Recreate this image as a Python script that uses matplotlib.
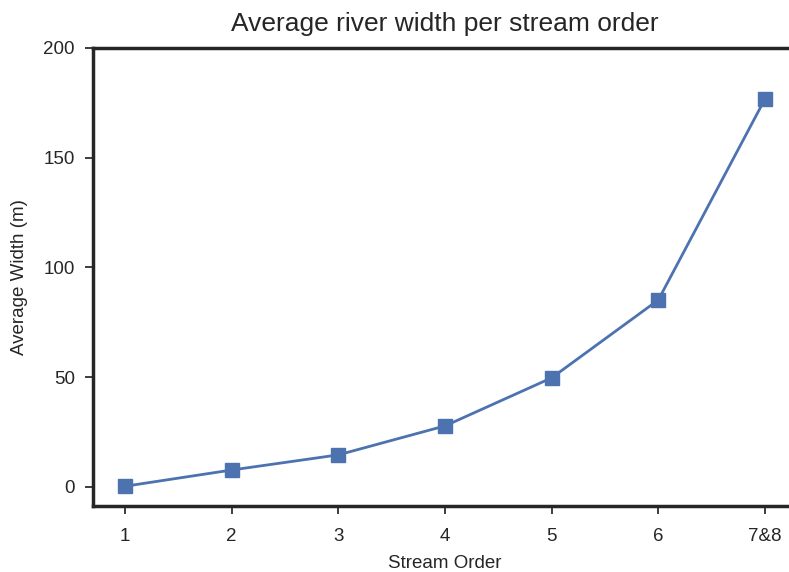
import matplotlib
matplotlib.use("Agg")
import matplotlib.pyplot as plt
import numpy as np

categories = ["1", "2", "3", "4", "5", "6", "7&8"]
widths = [0.3, 7.7, 14.6, 27.8, 49.7, 85.2, 176.8]
yticks = [0, 50, 100, 150, 200]

plt.rcParams['font.family'] = ['Liberation Sans', 'DejaVu Sans']

fig = plt.figure(figsize=(7.89, 5.72), dpi=100)
ax = fig.add_axes([93/789, 1 - 506/572, (797 - 93)/789, (506 - 48)/572])

x = np.arange(len(categories))
ax.plot(x, widths, color='#4c72b0', linewidth=2, marker='s', markersize=10,
        markerfacecolor='#4c72b0', markeredgecolor='#4c72b0')

ax.set_xlim(-0.3, len(categories) - 0.7)
ax.set_ylim(-8.7, 200)
ax.set_xticks(x)
ax.set_xticklabels(categories)
ax.set_yticks(yticks)

for s in ax.spines.values():
    s.set_linewidth(2.5)
    s.set_color('#262626')
ax.tick_params(axis='both', labelsize=13.5, colors='#262626', length=6, width=1.25, pad=7)
ax.tick_params(axis='x', pad=10)

ax.set_xlabel("Stream Order", fontsize=13.5, color='#262626', labelpad=7)
ax.set_ylabel("Average Width (m)", fontsize=13.5, color='#262626', labelpad=11)
ax.set_title("Average river width per stream order", fontsize=19, color='#262626', pad=12)

fig.savefig("out.png", dpi=100)
